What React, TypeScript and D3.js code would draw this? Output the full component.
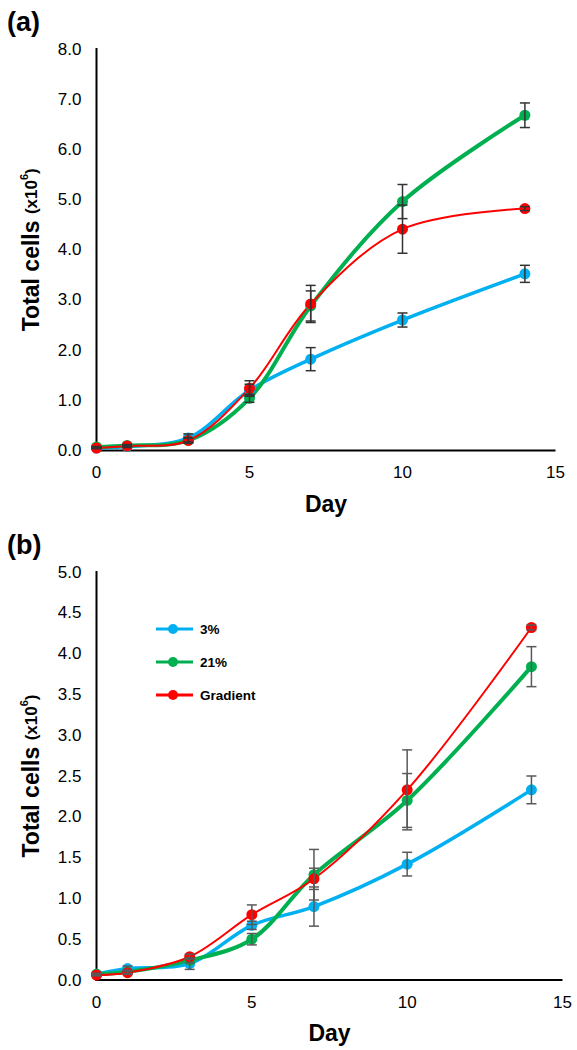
import React from "react";
import * as d3 from "d3";

const days = [0, 1, 3, 5, 7, 10, 14];
const seriesNames = ["3%", "21%", "Gradient"];
const seriesColors = ["#00b0f0", "#00b050", "#ff0000"];
const seriesWidths = [3.5, 4, 2];

// Panel (a)
const a3 = [0.05, 0.08, 0.25, 1.2, 1.82, 2.6, 3.52];
const a3Err = [0.01, 0.02, 0.08, 0.12, 0.23, 0.14, 0.17];
const a21 = [0.07, 0.1, 0.2, 1.04, 2.88, 4.96, 6.68];
const a21Err = [0.01, 0.02, 0.05, 0.08, 0.3, 0.34, 0.245];
const aGrad = [0.05, 0.09, 0.2, 1.24, 2.92, 4.41, 4.82];
const aGradErr = [0.01, 0.02, 0.05, 0.15, 0.37, 0.48, 0.04];
const aYTicks = [0, 1, 2, 3, 4, 5, 6, 7, 8];

// Panel (b)
const b3 = [0.07, 0.14, 0.2, 0.67, 0.9, 1.42, 2.33];
const b3Err = [0.01, 0.03, 0.07, 0.05, 0.24, 0.145, 0.17];
const b21 = [0.07, 0.1, 0.24, 0.5, 1.29, 2.2, 3.84];
const b21Err = [0.01, 0.02, 0.03, 0.07, 0.31, 0.33, 0.245];
const bGrad = [0.06, 0.09, 0.285, 0.8, 1.24, 2.33, 4.32];
const bGradErr = [0.01, 0.02, 0.03, 0.12, 0.13, 0.49, 0.03];
const bYTicks = [0, 0.5, 1, 1.5, 2, 2.5, 3, 3.5, 4, 4.5, 5];

const xTicks = [0, 5, 10, 15];

const FONT = "'Liberation Sans', Arial, sans-serif";

type PanelProps = {
  label: string;
  values: number[][];
  errors: number[][];
  yTicks: number[];
  yMax: number;
  x0: number;
  x1: number;
  yTop: number;
  yBottom: number;
  errColor: string;
  legend?: boolean;
};

function Panel({ label, values, errors, yTicks, yMax, x0, x1, yTop, yBottom, errColor, legend }: PanelProps) {
  const x = d3.scaleLinear().domain([0, 15]).range([x0, x1]);
  const y = d3.scaleLinear().domain([0, yMax]).range([yBottom, yTop]);
  const line = d3
    .line<number>()
    .x((_, i) => x(days[i]))
    .y((v) => y(v))
    .curve(d3.curveCatmullRom.alpha(0.5));
  const yMid = (yTop + yBottom) / 2;
  return (
    <g>
      <text x={7} y={yTop - 18} fontFamily={FONT} fontWeight="bold" fontSize={27} fill="#000">
        {label}
      </text>
      {/* axes */}
      <line x1={x0} x2={x0} y1={yTop - 1} y2={yBottom + 1} stroke="#000" strokeWidth={2} />
      <line x1={x0 - 1} x2={x1} y1={yBottom} y2={yBottom} stroke="#000" strokeWidth={2} />
      {yTicks.map((t) => (
        <text
          key={t}
          x={x0 - 15}
          y={y(t)}
          textAnchor="end"
          dominantBaseline="central"
          fontFamily={FONT}
          fontSize={17}
          fill="#000"
        >
          {t.toFixed(1)}
        </text>
      ))}
      {xTicks.map((t) => (
        <text
          key={t}
          x={x(t)}
          y={yBottom + 22}
          textAnchor="middle"
          dominantBaseline="central"
          fontFamily={FONT}
          fontSize={17}
          fill="#000"
        >
          {t}
        </text>
      ))}
      <text
        x={(x0 + x1) / 2}
        y={yBottom + 53}
        textAnchor="middle"
        dominantBaseline="central"
        fontFamily={FONT}
        fontWeight="bold"
        fontSize={23}
        fill="#000"
      >
        Day
      </text>
      <text
        transform={`translate(31,${yMid}) rotate(-90)`}
        textAnchor="middle"
        dominantBaseline="central"
        fontFamily={FONT}
        fontWeight="bold"
        fill="#000"
      >
        <tspan fontSize={23}>Total cells </tspan>
        <tspan fontSize={17}>(x10</tspan>
        <tspan fontSize={11} dy={-7}>6</tspan>
        <tspan fontSize={17} dy={7}>)</tspan>
      </text>
      {/* lines */}
      {values.map((vals, s) => (
        <path
          key={"l" + s}
          d={line(vals) || ""}
          fill="none"
          stroke={seriesColors[s]}
          strokeWidth={seriesWidths[s]}
        />
      ))}
      {values.map((vals, s) =>
        vals.map((v, i) => (
          <circle key={"c" + s + "-" + i} cx={x(days[i])} cy={y(v)} r={5.5} fill={seriesColors[s]} />
        ))
      )}
      {/* error bars */}
      {values.map((vals, s) =>
        vals.map((v, i) => {
          const e = errors[s][i];
          const cx = x(days[i]);
          const yt = y(v + e);
          const yb = y(Math.max(0, v - e));
          return (
            <g key={"e" + s + "-" + i} stroke={errColor} strokeWidth={1.5}>
              <line x1={cx} x2={cx} y1={yt} y2={yb} />
              <line x1={cx - 5} x2={cx + 5} y1={yt} y2={yt} />
              <line x1={cx - 5} x2={cx + 5} y1={yb} y2={yb} />
            </g>
          );
        })
      )}
      {legend &&
        seriesNames.map((n, s) => {
          const ly = 629 + s * 33;
          return (
            <g key={"lg" + s}>
              <line x1={156} x2={193} y1={ly} y2={ly} stroke={seriesColors[s]} strokeWidth={3} />
              <circle cx={173} cy={ly} r={5} fill={seriesColors[s]} />
              <text
                x={200}
                y={ly}
                dominantBaseline="central"
                fontFamily={FONT}
                fontWeight="bold"
                fontSize={13.5}
                fill="#000"
              >
                {n}
              </text>
            </g>
          );
        })}
    </g>
  );
}

export default function App() {
  return (
    <svg
      width={577}
      height={1050}
      style={{ position: "absolute", left: 0, top: 0, background: "#fff" }}
    >
      <rect width={577} height={1050} fill="#fff" />
      <Panel
        label="(a)"
        values={[a3, a21, aGrad]}
        errors={[a3Err, a21Err, aGradErr]}
        yTicks={aYTicks}
        yMax={8}
        x0={96.5}
        x1={555.5}
        yTop={49}
        yBottom={450.5}
        errColor="#333333"
      />
      <Panel
        label="(b)"
        values={[b3, b21, bGrad]}
        errors={[b3Err, b21Err, bGradErr]}
        yTicks={bYTicks}
        yMax={5}
        x0={96.5}
        x1={562.5}
        yTop={572}
        yBottom={980}
        errColor="#595959"
        legend
      />
    </svg>
  );
}
